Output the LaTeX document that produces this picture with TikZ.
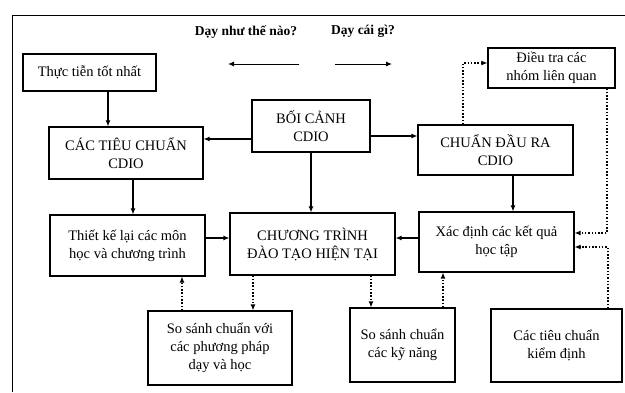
\documentclass[tikz,border=0pt]{standalone}
\usepackage{fontspec}
\setmainfont{Liberation Serif}
\usetikzlibrary{arrows.meta}
\begin{document}
\begin{tikzpicture}[x=1pt,y=-1pt,
		box/.style={draw,line width=1.1pt,align=center,inner sep=0pt,font=\fontsize{14.5}{18}\selectfont},
		arr/.style={-{Latex[length=6pt,width=5pt]},line width=1.3pt},
		dot/.style={-{Latex[length=6pt,width=5pt]},line width=1.2pt,dash pattern=on 1.5pt off 1.8pt}]
			\useasboundingbox (0,0) rectangle (625,392);
			\draw[line width=0.8pt] (12,392) -- (12,15) -- (625,15);
			\node[font=\bfseries\fontsize{13.5}{15}\selectfont] (how) at (246,32) {Dạy như thế nào?};
			\node[font=\bfseries\fontsize{13.5}{15}\selectfont] (what) at (363,31) {Dạy cái gì?};
			\coordinate (howA) at (299,64);
			\coordinate (howB) at (228,64);
			\coordinate (whatA) at (335,64);
			\coordinate (whatB) at (392,64);
			\draw[arr,line width=1pt] (howA) -- (howB);
			\draw[arr,line width=1pt] (whatA) -- (whatB);
			\node[box,minimum width=133pt,minimum height=37pt] (best) at (89.5,72.5) {Thực tiễn tốt nhất};
			\node[box,minimum width=154pt,minimum height=52pt] (std) at (126,153) {CÁC TIÊU CHUẨN\\CDIO};
			\node[box,minimum width=118pt,minimum height=52pt] (ctx) at (311,126) {BỐI CẢNH\\CDIO};
			\node[box,minimum width=155pt,minimum height=50pt] (out) at (495.5,150) {CHUẨN ĐẦU RA\\CDIO};
			\node[box,minimum width=127pt,minimum height=40pt] (survey) at (551.5,68) {Điều tra các\\nhóm liên quan};
			\node[box,minimum width=155pt,minimum height=61pt] (redesign) at (127.5,245.5) {Thiết kế lại các môn\\học và chương trình};
			\node[box,minimum width=165pt,minimum height=62pt] (prog) at (312.5,244) {CHƯƠNG TRÌNH\\ĐÀO TẠO HIỆN TẠI};
			\node[box,minimum width=155pt,minimum height=60pt] (learn) at (496.5,242) {Xác định các kết quả\\học tập};
			\node[box,minimum width=144pt,minimum height=74pt] (method) at (220,348) {So sánh chuẩn với\\các phương pháp\\dạy và học};
			\node[box,minimum width=105pt,minimum height=74pt] (skill) at (402.5,345) {So sánh chuẩn\\các kỹ năng};
			\node[box,minimum width=131pt,minimum height=73pt] (accr) at (556.5,345.5) {Các tiêu chuẩn\\kiểm định};
			\draw[arr] ([xshift=18.5pt]best.south) -- ([xshift=18.5pt]best.south |- std.north);
			\draw[arr] ([yshift=-13pt]ctx.west) -- ([yshift=-13pt]ctx.west -| std.east);
			\draw[arr] ([yshift=-10pt]ctx.east) -- ([yshift=-10pt]ctx.east -| out.west);
			\draw[arr] ([xshift=7pt]std.south) -- ([xshift=7pt]std.south |- redesign.north);
			\draw[arr] (ctx.south) -- (ctx.south |- prog.north);
			\draw[arr] ([xshift=17.5pt]out.south) -- ([xshift=17.5pt]out.south |- learn.north);
			\draw[arr] ([yshift=7.5pt]redesign.east) -- ([yshift=7.5pt]redesign.east -| prog.west);
			\draw[arr] ([yshift=4pt]learn.west) -- ([yshift=4pt]learn.west -| prog.east);
			\draw[dot] ([xshift=-59.5pt]prog.south) -- ([xshift=-59.5pt]prog.south |- method.north);
			\draw[dot] ([xshift=-38pt]method.north) -- ([xshift=-38pt]method.north |- redesign.south);
			\draw[dot] ([xshift=58.5pt]prog.south) -- ([xshift=58.5pt]prog.south |- skill.north);
			\draw[dot] ([xshift=40.5pt]skill.north) -- ([xshift=40.5pt]skill.north |- learn.south);
			\draw[dot] ([xshift=-32.5pt]out.north) |- ([yshift=5pt]survey.west);
			\draw[dot] ([xshift=55.5pt]survey.south) |- ([yshift=9pt]learn.east);
			\draw[dot] ([xshift=51.5pt]accr.north) |- ([yshift=-5pt]learn.east);
		\end{tikzpicture}
\end{document}
